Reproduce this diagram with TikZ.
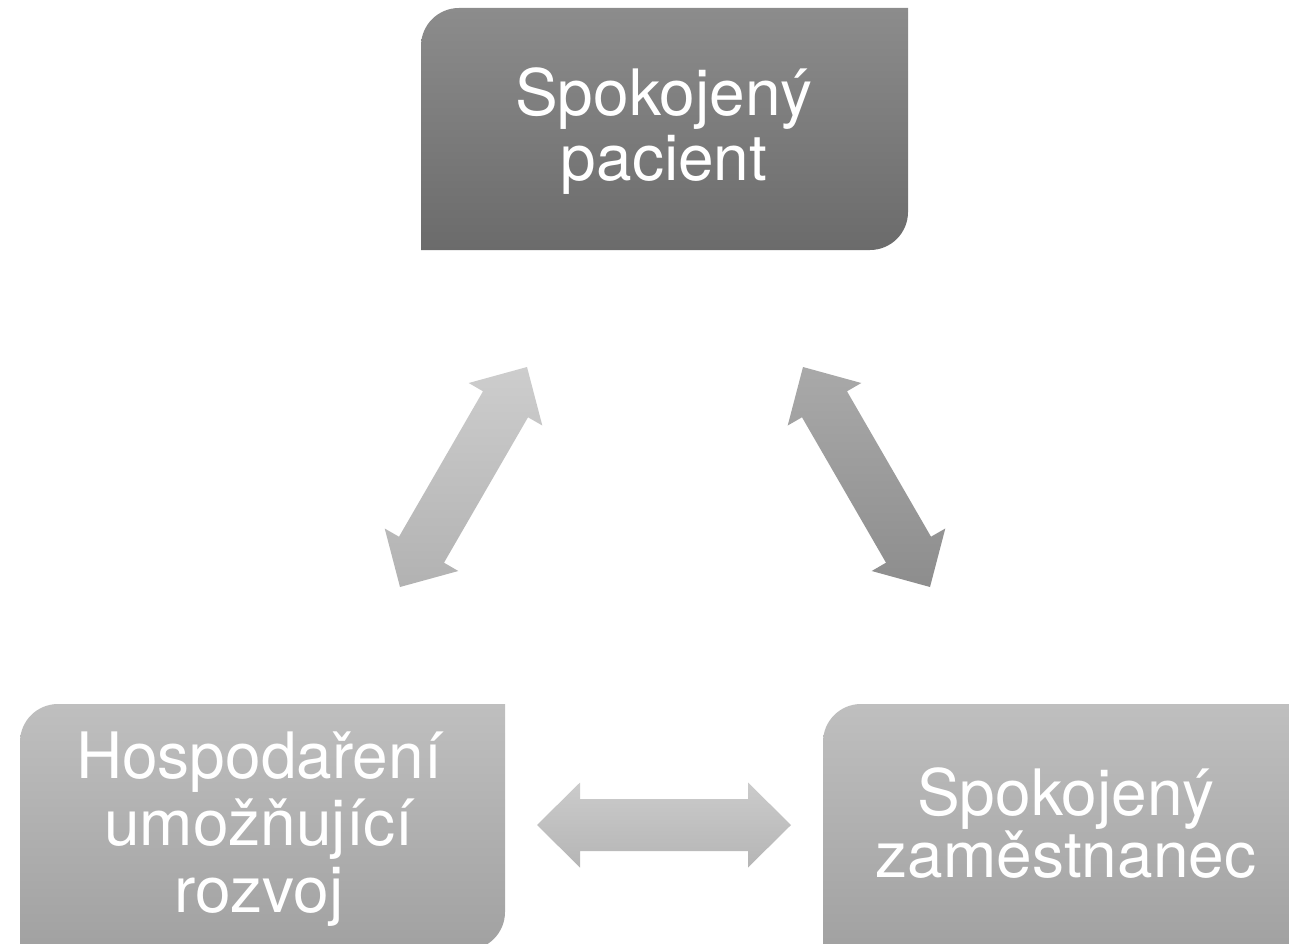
\documentclass[tikz,border=0pt]{standalone}
\usepackage{fontspec}
\setmainfont{TeX Gyre Heros}
\definecolor{topA}{HTML}{8C8C8C}
\definecolor{topB}{HTML}{6B6B6B}
\definecolor{boxA}{HTML}{BFBFBF}
\definecolor{boxB}{HTML}{A1A1A1}
\definecolor{arrLA}{HTML}{CDCDCD}
\definecolor{arrLB}{HTML}{B2B2B2}
\definecolor{arrRA}{HTML}{A9A9A9}
\definecolor{arrRB}{HTML}{8D8D8D}
\definecolor{arrHA}{HTML}{CBCBCB}
\definecolor{arrHB}{HTML}{B5B5B5}
\tikzset{
  lbl/.style={text=white, align=center, anchor=base, inner sep=0pt},
  darkbox/.style={top color=topA, bottom color=topB},
  lightbox/.style={top color=boxA, bottom color=boxB},
}
\begin{document}
\begin{tikzpicture}[x=1pt,y=-1pt]
\useasboundingbox (0,0) rectangle (1289,944);
\clip (0,0) rectangle (1289,944);
% top box
\shade[darkbox] (421,250) -- (421,46) .. controls (421,25) and (438,8) .. (459,8) -- (908,8) -- (908,212) .. controls (908,233) and (891,250) .. (870,250) -- cycle;
% bottom-left box
\shade[lightbox] (20,950) -- (20,742) .. controls (20,721) and (37,704) .. (58,704) -- (505,704) -- (505,912) .. controls (505,933) and (488,950) .. (467,950) -- cycle;
% bottom-right box
\shade[lightbox] (823,950) -- (823,742) .. controls (823,721) and (840,704) .. (861,704) -- (1310,704) -- (1310,950) -- cycle;
% left diagonal double arrow
\shade[top color=arrLA, bottom color=arrLB] (527,367) -- (542.3,425.5) -- (528,417.3) -- (444,562.7) -- (458.3,571) -- (400,587) -- (384.7,528.5) -- (399,536.7) -- (483,391.3) -- (468.7,383) -- cycle;
% right diagonal double arrow
\shade[top color=arrRA, bottom color=arrRB] (803,367) -- (787.7,425.5) -- (802,417.3) -- (886,562.7) -- (871.7,571) -- (930,587) -- (945.3,528.5) -- (931,536.7) -- (847,391.3) -- (861.3,383) -- cycle;
% horizontal double arrow
\shade[top color=arrHA, bottom color=arrHB] (537,825) -- (580,782.5) -- (580,799) -- (748,799) -- (748,782.5) -- (791,825) -- (748,867.5) -- (748,851) -- (580,851) -- (580,867.5) -- cycle;
% texts (base anchor = baseline of the last line)
\node[lbl, font=\fontsize{64}{65}\selectfont] (ttop) at (664,180) {Spokojený\\pacient};
\node[lbl, font=\fontsize{64}{67}\selectfont] (tleft) at (259,912) {Hospodaření\\umožňující\\rozvoj};
\node[lbl, font=\fontsize{64}{54}\selectfont] (tright) at (1066,877) {Spokojený\\zaměstnanec};
\end{tikzpicture}
\end{document}
